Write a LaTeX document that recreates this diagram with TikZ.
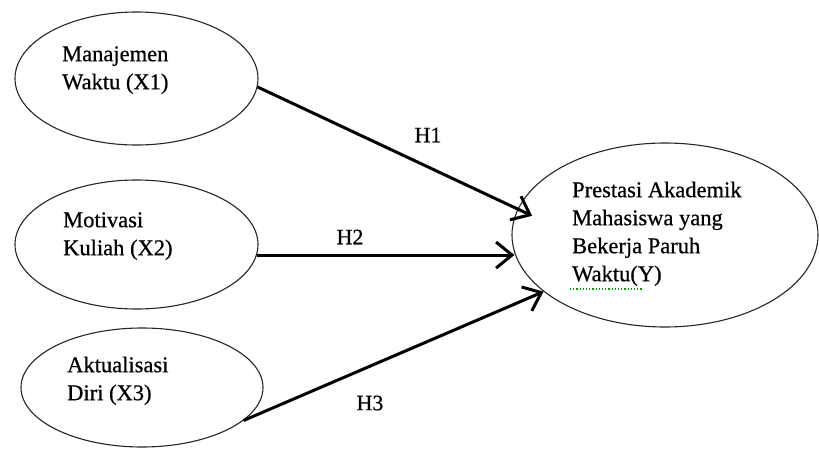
\documentclass[tikz,border=0pt]{standalone}
\usepackage{fontspec}
\setmainfont{Liberation Serif}
\newfontfamily\scanfont[FakeBold=0.6]{Liberation Serif}
\usetikzlibrary{shapes.geometric,arrows.meta}
\begin{document}
\begin{tikzpicture}[x=1pt,y=-1pt,
  oval/.style={draw=black!85, line width=1.1pt, ellipse, inner sep=0pt},
  lbl/.style={anchor=north west, inner sep=0pt, align=left, font=\scanfont\fontsize{22.5}{28}\selectfont, text=black},
  hyp/.style={font=\scanfont\fontsize{22}{26}\selectfont, inner sep=0pt, text=black},
  link/.style={line width=3pt, -{Straight Barb[length=16pt,width=26pt]}}]
\useasboundingbox (0,0) rectangle (819,453);
\node[oval, minimum width=243pt, minimum height=133pt] (x1) at (136.5,78.5) {};
\node[oval, minimum width=243pt, minimum height=129pt] (x2) at (136.5,244.5) {};
\node[oval, minimum width=242pt, minimum height=119pt] (x3) at (142,387.5) {};
\node[oval, minimum width=306pt, minimum height=184pt] (y) at (665,235) {};
\node[lbl] (t1) at (62,41.4) {\strut Manajemen\\Waktu (X1)};
\node[lbl] (t2) at (63,207.4) {\strut Motivasi\\Kuliah (X2)};
\node[lbl] (t3) at (67,352.4) {\strut Aktualisasi\\Diri (X3)};
\node[lbl] (ty) at (572,177.4) {\strut Prestasi Akademik\\Mahasiswa yang\\Bekerja Paruh\\Waktu(Y)};
\draw[green!60!black, dotted, line width=1.2pt] (570,289) -- (643,289);
\node[hyp] (h1) at (428,135) {H1};
\node[hyp] (h2) at (350,237) {H2};
\node[hyp] (h3) at (370,403) {H3};
\draw[link, shorten >=-16pt] (x1.-4.7) -- (y.170);
\draw[link, shorten >=-3pt] (x2.-5.5) -- (x2.-5.5 -| y.west);
\draw[link] (x3.-18) -- (y.205.4);
\end{tikzpicture}
\end{document}
